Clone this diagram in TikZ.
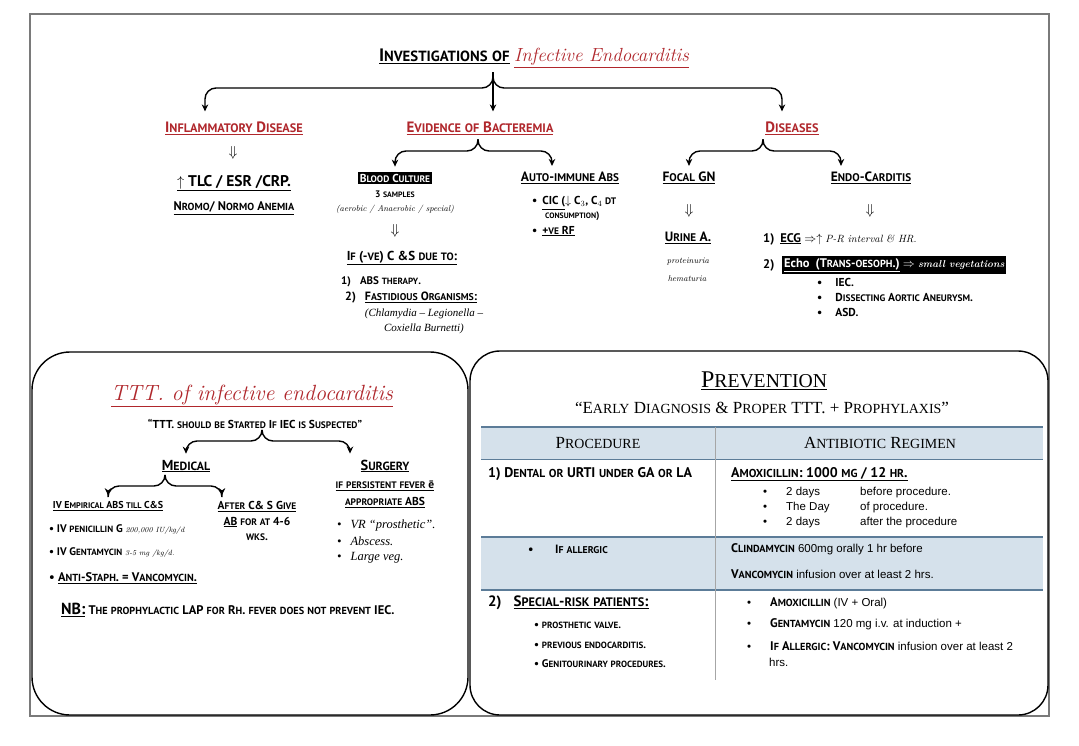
\documentclass[tikz,border=0pt]{standalone}
\usepackage{fontspec}
\usetikzlibrary{arrows.meta, positioning, calc}

\newfontfamily\hdfont{PT Sans}
\newfontfamily\arialfont{Liberation Sans}
\newfontfamily\tnrfont{Liberation Serif}

\definecolor{hdred}{HTML}{B0272C}
\definecolor{tblue}{HTML}{D5E1EB}
\definecolor{tline}{HTML}{5C7C98}
\definecolor{framegray}{HTML}{7A7A7A}

% small caps made by hand (capitals kept, small letters raised and shrunk)
\newcommand\fscsmall{\fontsize{\fpeval{0.82*\csname f@size\endcsname}}{0}\selectfont}
\ExplSyntaxOn
\cs_new_protected:Npn \fsc_char:n #1
  {
    \bool_lazy_and:nnTF
      { \int_compare_p:nNn { `#1 } > { 96 } }
      { \int_compare_p:nNn { `#1 } < { 123 } }
      { { \fscsmall \tex_uppercase:D {#1} } }
      { #1 }
  }
\NewDocumentCommand \fsc { m } { \str_map_function:nN {#1} \fsc_char:n }
\ExplSyntaxOff
% drug names in the regimen column
\newcommand\drug[1]{{\hdfont\bfseries\fontsize{12.5}{14}\selectfont\fsc{#1}}}

\tikzset{
  body/.style={font=\hdfont\bfseries\fontsize{#1}{\fpeval{1.35*#1}}\selectfont},
  body/.default=11,
  redhead/.style={body=15, text=hdred},
  handtxt/.style={font=\normalfont\itshape\fontsize{#1}{#1}\selectfont},
  handtxt/.default=8.5,
  regtxt/.style={font=\arialfont\fontsize{11.5}{14}\selectfont},
  sertxt/.style={font=\tnrfont\itshape\fontsize{12.5}{14}\selectfont},
  serhead/.style={font=\tnrfont\fontsize{17}{19}\selectfont},
  downarr/.style={font=\fontsize{15}{15}\selectfont},
  fork/.style={line width=1.4pt, rounded corners=11pt,
    -{Stealth[length=7pt, width=6.5pt]}, shorten >=5pt},
  panel/.style={line width=1.4pt, rounded corners=38pt},
  blackbox/.style={fill=black, text=white, inner sep=2pt}
}

\begin{document}
\begin{tikzpicture}[x=1pt, y=-1pt, every node/.style={inner sep=1pt}]

    \useasboundingbox (0,0) rectangle (1079,745);
    \fill[white] (0,0) rectangle (1079,745);

    % FRAME AND PANELS
    \draw[framegray, line width=1.5pt] (30,14) rectangle (1049,716);
    \draw[panel] (32,352) rectangle (468,715);
    \draw[panel, rounded corners=30pt] (470,351) rectangle (1048,715);

    % TITLE
    \node[body=18] (title) at (534,58)
        {\underline{\fsc{Investigations of}} {\color{hdred}\normalfont\itshape\fontsize{19}{20}\selectfont\underline{Infective Endocarditis}}};
    \coordinate (tfork) at (493,72);

    % FIRST LEVEL
    \node[redhead] (inflam) at (234,128) {\underline{\fsc{Inflammatory Disease}}};
    \node[redhead] (evid) at (480,128) {\underline{\fsc{Evidence of Bacteremia}}};
    \node[redhead] (dis) at (792,128) {\underline{\fsc{Diseases}}};

    \draw[fork, shorten >=9pt] (tfork) -- ++(0,16) -| ([xshift=-29pt]inflam.north);
    \draw[fork, shorten >=9pt] (tfork) -- ([xshift=13pt]evid.north);
    \draw[fork, shorten >=9pt] (tfork) -- ++(0,16) -| ([xshift=-10pt]dis.north);

    % INFLAMMATORY DISEASE
    \node[downarr] (inflarr) at (233,153) {$\Downarrow$};
    \node[body=15.5] (tlc) at (234,183) {\underline{$\uparrow$ TLC / ESR /CRP.}};
    \node[body=12.5] (anemia) at (234,208) {\underline{\fsc{Nromo/ Normo Anemia}}};

    % EVIDENCE OF BACTEREMIA
    \coordinate (evfork) at (478,139);
    \node[body=11.5, blackbox] (blood) at (395,178) {\fsc{Blood Culture}};
    \node[body=13.5] (aiabs) at (570,178) {\underline{\fsc{Auto-immune Abs}}};
    \draw[fork] (evfork) -- ++(0,12) -| (blood.north);
    \draw[fork] (evfork) -- ++(0,12) -| ([xshift=-18pt]aiabs.north);

    \node[body=9.5] (samples) at (395,194) {\fsc{3 samples}};
    \node[handtxt] (aerob) at (395,209) {(aerobic / Anaerobic / special)};
    \node[downarr] (bcarr) at (395,231) {$\Downarrow$};
    \node[body=13] (negcs) at (402,258) {\underline{\fsc{If (-ve) C &S due to:}}};
    \node[body, anchor=west] (abs1) at (340,282) {1)\hspace{9pt}\fsc{ABS therapy.}};
    \node[body=12, anchor=west] (abs2) at (344,298) {2)\hspace{9pt}\underline{\fsc{Fastidious Organisms:}}};
    \node[sertxt, font=\tnrfont\itshape\fontsize{11}{12}\selectfont] (chlam) at (424,314) {(Chlamydia – Legionella –};
    \node[sertxt, font=\tnrfont\itshape\fontsize{11}{12}\selectfont] (coxi) at (424,329) {Coxiella Burnetti)};

    \node[body=11.5, anchor=west] (cic) at (531,203)
        {\textbullet\hspace{5pt}\underline{\fsc{CIC (}}$\downarrow$ C$_3$, C$_4$ \fsc{dt}};
    \node[body=9.5, anchor=west] (consum) at (544,216) {\fsc{consumption)}};
    \node[body=11.5, anchor=west] (rf) at (531,231) {\textbullet\hspace{5pt}\underline{\fsc{+ve RF}}};

    % DISEASES
    \coordinate (disfork) at (763,139);
    \node[body=13.5] (focal) at (689,178) {\underline{\fsc{Focal GN}}};
    \node[body=13.5] (endo) at (871,178) {\underline{\fsc{Endo-Carditis}}};
    \draw[fork] (disfork) -- ++(0,12) -| (focal.north);
    \draw[fork] (disfork) -- ++(0,12) -| ([xshift=-30pt]endo.north);

    \node[downarr] (focarr) at (689,211) {$\Downarrow$};
    \node[downarr] (endarr) at (870,211) {$\Downarrow$};
    \node[body=13.5] (urine) at (688,238) {\underline{\fsc{Urine A.}}};
    \node[handtxt] (prot) at (688,262) {proteinuria};
    \node[handtxt] (hema) at (687,279) {hematuria};

    \node[body=12.5, anchor=west] (ecg) at (762,239)
        {1)\hspace{6pt}\underline{ECG} $\Rightarrow\uparrow$ {\normalfont\itshape\fontsize{10.5}{11}\selectfont P-R interval \& HR.}};
    \node[body=12.5, anchor=west] (echonum) at (762,265) {2)};
    \node[body=12.5, blackbox, anchor=west] (echo) at (782,265)
        {\underline{Echo\hspace{6pt}(\fsc{Trans-oesoph.})} $\Rightarrow$ {\normalfont\itshape\bfseries\fontsize{10}{11}\selectfont small vegetations}};
    \node[body=11.5, anchor=west] (iec) at (816,282) {\textbullet\hspace{13pt}\fsc{IEC.}};
    \node[body=11.5, anchor=west] (aneu) at (816,297) {\textbullet\hspace{13pt}\fsc{Dissecting Aortic Aneurysm.}};
    \node[body=11.5, anchor=west] (asd) at (816,312) {\textbullet\hspace{13pt}\fsc{ASD.}};

    % TREATMENT PANEL
    \node[text=hdred, font=\normalfont\itshape\fontsize{22}{24}\selectfont] (tttitle) at (252,396)
        {\underline{TTT. of infective endocarditis}};
    \node[body=11.5] (tttquote) at (255,424) {\fsc{“TTT. should be Started If IEC is Suspected”}};
    \coordinate (tttfork) at (262,431);
    \node[body=14.5] (medical) at (186,466) {\underline{\fsc{Medical}}};
    \node[body=14.5] (surgery) at (385,466) {\underline{\fsc{Surgery}}};
    \draw[fork] (tttfork) -- ++(0,10) -| (medical.north);
    \draw[fork] (tttfork) -- ++(0,10) -| ([xshift=-35pt]surgery.north);

    \node[body=11.5, align=center] (persist) at (385,494)
        {\underline{\fsc{if persistent fever ē}}\\[1.5pt]\underline{\fsc{appropriate ABS}}};

    \coordinate (medfork) at (165,477);
    \node[body=10] (empir) at (108,506) {\underline{\fsc{IV Empirical ABS till C&S}}};
    \node[body=11.5, align=center] (after) at (257,521)
        {\underline{\fsc{After C& S Give}}\\\underline{\fsc{AB}} \fsc{for at 4-6}\\\fsc{wks.}};
    \draw[fork] (medfork) -- ++(0,9) -| (empir.north);
    \draw[fork] (medfork) -- ++(0,9) -| ([xshift=-35pt]after.north);

    \node[body=11, anchor=west] (penic) at (48,530)
        {\textbullet\ \fsc{IV penicillin G} {\normalfont\itshape\fontsize{7.5}{8}\selectfont 200,000 IU/kg/d}};
    \node[body=11, anchor=west] (genta) at (48,553)
        {\textbullet\ \fsc{IV Gentamycin} {\normalfont\itshape\fontsize{7.5}{8}\selectfont 3-5 mg /kg/d.}};
    \node[body=12.5, anchor=west] (antist) at (48,578) {\textbullet\ \underline{\fsc{Anti-Staph. = Vancomycin.}}};
    \node[body=12.5, anchor=west] (nbnote) at (60,610)
        {{\fontsize{16}{18}\selectfont\underline{NB:}} \fsc{The prophylactic LAP for Rh. fever does not prevent IEC.}};

    \node[sertxt, anchor=west] (vr) at (336,525) {\textbullet\hspace{9pt}VR “prosthetic”.};
    \node[sertxt, anchor=west] (absc) at (336,541) {\textbullet\hspace{9pt}Abscess.};
    \node[sertxt, anchor=west] (lveg) at (336,558) {\textbullet\hspace{9pt}Large veg.};

    % PREVENTION PANEL
    \node[font=\tnrfont\fontsize{24}{26}\selectfont] (prev) at (764,381) {\underline{\fsc{Prevention}}};
    \node[font=\tnrfont\fontsize{17}{19}\selectfont] (prevquote) at (762,408)
        {\fsc{“Early Diagnosis & Proper TTT. + Prophylaxis”}};

    % table
    \fill[tblue] (481,427) rectangle (1043,459);
    \fill[tblue] (481,537) rectangle (1043,590);
    \draw[tline, line width=1.6pt] (481,427) -- (1043,427);
    \draw[tline, line width=1pt] (481,459) -- (1043,459);
    \draw[tline, line width=1.2pt] (481,537) -- (1043,537);
    \draw[tline, line width=1.6pt] (481,590) -- (1043,590);
    \draw[gray!70, line width=0.8pt] (715,427) -- (715,680);

    \node[serhead] (proc) at (598,443) {\fsc{Procedure}};
    \node[serhead] (regimen) at (880,443) {\fsc{Antibiotic Regimen}};

    \node[body=14, anchor=west] (dental) at (487,474) {1) \fsc{Dental or URTI under GA or LA}};
    \node[body=14, anchor=west] (amox) at (730,474) {\underline{\fsc{Amoxicillin: 1000 mg / 12 hr.}}};
    \node[regtxt, anchor=west] (day1) at (762,493)
        {\makebox[23pt][l]{\textbullet}\makebox[74pt][l]{2 days}before procedure.};
    \node[regtxt, anchor=west] (day2) at (762,508)
        {\makebox[23pt][l]{\textbullet}\makebox[74pt][l]{The Day}of procedure.};
    \node[regtxt, anchor=west] (day3) at (762,523)
        {\makebox[23pt][l]{\textbullet}\makebox[74pt][l]{2 days}after the procedure};

    \node[body=12, anchor=west] (allerg) at (527,549) {\makebox[27pt][l]{\textbullet}\fsc{If allergic}};
    \node[regtxt, anchor=west] (clinda) at (730,549) {\drug{Clindamycin} 600mg orally 1 hr before};
    \node[regtxt, anchor=west] (vanco) at (730,574) {\drug{Vancomycin} infusion over at least 2 hrs.};

    \node[body=15, anchor=west] (special) at (487,603) {2)\hspace{12pt}\underline{\fsc{Special-risk patients:}}};
    \node[body=11, anchor=west] (valve) at (533,625) {\textbullet\ \fsc{prosthetic valve.}};
    \node[body=11, anchor=west] (prevend) at (533,645) {\textbullet\ \fsc{previous endocarditis.}};
    \node[body=11, anchor=west] (genito) at (533,664) {\textbullet\ \fsc{Genitourinary procedures.}};

    \node[regtxt, anchor=west] (amoxiv) at (746,603)
        {\makebox[23pt][l]{\textbullet}\drug{Amoxicillin} (IV + Oral)};
    \node[regtxt, anchor=west] (gentind) at (746,624)
        {\makebox[23pt][l]{\textbullet}\drug{Gentamycin} 120 mg i.v. at induction +};
    \node[regtxt, anchor=west] (allerg2) at (746,646)
        {\makebox[23pt][l]{\textbullet}\drug{If Allergic: Vancomycin} infusion over at least 2};
    \node[regtxt, anchor=west] (hrs) at (768,662) {hrs.};

\end{tikzpicture}
\end{document}
